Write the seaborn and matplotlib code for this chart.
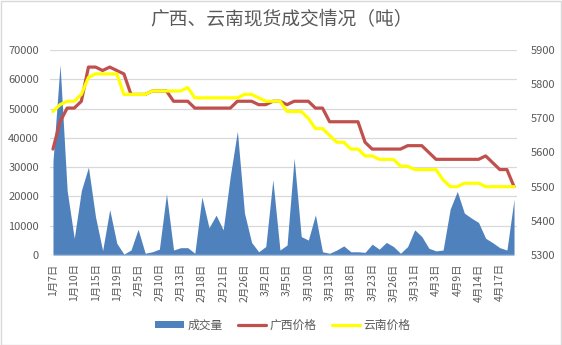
import numpy as np
import pandas as pd
import seaborn as sns
import matplotlib
matplotlib.use("Agg")
import matplotlib.pyplot as plt
from matplotlib.patches import Patch, Rectangle
from matplotlib.lines import Line2D

dates = ["1月7日", "1月8日", "1月9日", "1月10日", "1月11日", "1月14日", "1月15日", "1月16日",
         "1月18日", "1月19日", "1月22日", "1月25日", "2月5日", "2月6日", "2月8日", "2月10日",
         "2月11日", "2月12日", "2月13日", "2月14日", "2月15日", "2月18日", "2月19日", "2月20日",
         "2月21日", "2月22日", "2月25日", "2月26日", "2月27日", "2月28日", "3月2日", "3月3日",
         "3月4日", "3月5日", "3月6日", "3月8日", "3月10日", "3月11日", "3月12日", "3月13日",
         "3月14日", "3月15日", "3月18日", "3月19日", "3月20日", "3月23日", "3月24日", "3月25日",
         "3月26日", "3月27日", "3月28日", "3月31日", "4月1日", "4月2日", "4月3日", "4月4日",
         "4月8日", "4月9日", "4月10日", "4月11日", "4月14日", "4月15日", "4月16日", "4月17日",
         "4月18日", "4月19日"]

volume = [32000, 65000, 22000, 5700, 22000, 30000, 13000, 1500, 15500, 4000,
          300, 1700, 8800, 600, 1100, 2000, 20900, 1700, 2500, 2500,
          600, 19800, 9300, 13600, 8600, 27000, 42300, 14300, 4300, 1100,
          2900, 25700, 1700, 3400, 33100, 6300, 5100, 13700, 1100, 600,
          1700, 3100, 1100, 1100, 900, 3700, 2000, 4300, 2900, 600,
          2900, 8600, 6300, 2300, 1400, 1700, 15700, 21700, 14300, 12600,
          11100, 5700, 4200, 2500, 1700, 19000]

guangxi = [5610, 5690, 5730, 5730, 5750, 5850, 5850, 5840, 5850, 5840,
           5830, 5770, 5770, 5770, 5780, 5780, 5780, 5750, 5750, 5750,
           5730, 5730, 5730, 5730, 5730, 5730, 5750, 5750, 5750, 5740,
           5740, 5750, 5750, 5740, 5750, 5750, 5750, 5730, 5730, 5690,
           5690, 5690, 5690, 5690, 5630, 5610, 5610, 5610, 5610, 5610,
           5620, 5620, 5620, 5600, 5580, 5580, 5580, 5580, 5580, 5580,
           5580, 5590, 5570, 5550, 5550, 5500]

yunnan = [5720, 5740, 5750, 5750, 5770, 5820, 5830, 5830, 5830, 5830,
          5770, 5770, 5770, 5770, 5780, 5780, 5780, 5780, 5780, 5790,
          5760, 5760, 5760, 5760, 5760, 5760, 5760, 5770, 5770, 5760,
          5750, 5750, 5750, 5720, 5720, 5720, 5700, 5670, 5670, 5650,
          5630, 5630, 5610, 5610, 5590, 5590, 5580, 5580, 5580, 5560,
          5560, 5550, 5550, 5550, 5550, 5520, 5500, 5500, 5510, 5510,
          5510, 5500, 5500, 5500, 5500, 5500]

title = "广西、云南现货成交情况（吨）"
series_names = ["成交量", "广西价格", "云南价格"]

BLUE = "#4F81BD"
RED = "#C0504D"
YELLOW = "#FFFF00"
TXT = "#595959"
GRID = "#D9D9D9"

sns.set_theme(style="white")
plt.rcParams["font.family"] = ["Noto Sans CJK SC", "DejaVu Sans"]

W, H = 562, 345
fig = plt.figure(figsize=(W / 100, H / 100), dpi=100)
fig.patch.set_facecolor("white")

x0, x1, y0, y1 = 50, 517, 50, 255
ax = fig.add_axes([x0 / W, 1 - y1 / H, (x1 - x0) / W, (y1 - y0) / H])
ax2 = ax.twinx()

idx = np.arange(len(dates))
df = pd.DataFrame({"idx": idx, "volume": volume, "广西价格": guangxi, "云南价格": yunnan})

# area (left axis)
ax.fill_between(df["idx"], 0, df["volume"], color=BLUE, lw=0, zorder=2)
ax.set_ylim(0, 70000)
ax.set_yticks(np.arange(0, 70001, 10000))
ax.set_xlim(-0.42, len(dates) - 1 + 0.42)
for v in np.arange(10000, 70001, 10000):
    ax.axhline(v, color=GRID, lw=0.9, zorder=0)
ax.axhline(0, color=GRID, lw=1.0, zorder=3)

# price lines (right axis)
sns.lineplot(data=df, x="idx", y="广西价格", ax=ax2, color=RED, lw=2.3, zorder=4)
sns.lineplot(data=df, x="idx", y="云南价格", ax=ax2, color=YELLOW, lw=2.3, zorder=5)
ax2.set_ylim(5300, 5900)
ax2.set_yticks(np.arange(5300, 5901, 100))
ax2.set_xlim(ax.get_xlim())
ax2.set_ylabel("")
ax.set_ylabel("")
ax.set_xlabel("")
ax2.set_xlabel("")

ax.set_xticks(idx[::3])
ax.set_xticklabels(dates[::3], rotation=90, fontsize=7.5, color=TXT)
ax.tick_params(axis="x", length=0, pad=6)
ax.tick_params(axis="y", length=0, pad=8, labelsize=8, labelcolor=TXT)
ax2.tick_params(axis="y", length=0, pad=10, labelsize=8, labelcolor=TXT)
ax2.tick_params(axis="x", length=0)

for a in (ax, ax2):
    for s in a.spines.values():
        s.set_visible(False)
    a.grid(False)
    a.set_facecolor("none")

fig.text(0.5, 1 - 20 / H, title, ha="center", va="center", fontsize=13.5, color=TXT)

handles = [Patch(facecolor=BLUE, edgecolor="none"),
           Line2D([0], [0], color=RED, lw=2.3),
           Line2D([0], [0], color=YELLOW, lw=2.3)]
fig.legend(handles, series_names, loc="center", bbox_to_anchor=(283 / W, 1 - 325 / H),
           ncol=3, frameon=False, fontsize=8.5, labelcolor=TXT, handlelength=2.4,
           handleheight=0.6, handletextpad=0.3, columnspacing=1.3)

fig.add_artist(Rectangle((0.5 / W, 0.5 / H), 1 - 1.5 / W, 1 - 1.5 / H, transform=fig.transFigure,
                         fill=False, edgecolor=GRID, lw=1.0))

fig.savefig("out.png", dpi=100)
